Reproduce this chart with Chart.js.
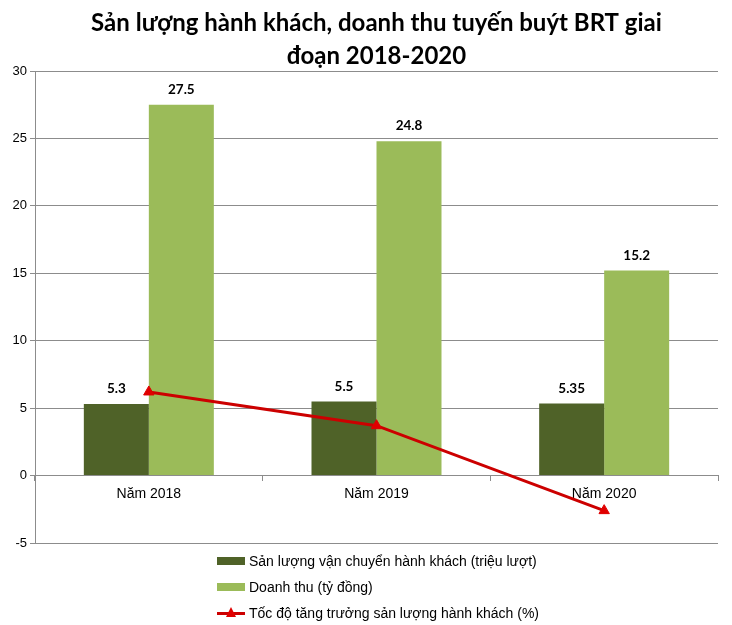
<!DOCTYPE html>
<html>
<head>
<meta charset="utf-8">
<script src="https://cdn.jsdelivr.net/npm/chart.js@4"></script>
<style>
  html, body { margin:0; padding:0; background:#fff; }
  #wrap { position:relative; width:732px; height:625px; }
  #legend { position:absolute; left:217px; top:548px; font-family:"Liberation Sans", Arial, sans-serif; font-size:14px; color:#000; }
  .li { display:flex; align-items:center; height:26px; }
  .sw { width:28px; height:8px; margin-right:4px; position:relative; }
</style>
</head>
<body>
<div id="wrap">
  <canvas id="c" width="732" height="625"></canvas>
  <div id="legend"></div>
</div>
<script>
// ── dữ liệu ──────────────────────────────────────────────
const NAM        = ['Năm 2018', 'Năm 2019', 'Năm 2020'];
const SAN_LUONG  = [5.3, 5.5, 5.35];     // triệu lượt
const DOANH_THU  = [27.5, 24.8, 15.2];   // tỷ đồng
const TANG_TRUONG = [6.2, 3.7, -2.6];    // %
const Y_TICKS    = [-5, 0, 5, 10, 15, 20, 25, 30];

const TITLE = ['Sản lượng hành khách, doanh thu tuyến buýt BRT giai', 'đoạn 2018-2020'];

const C = {
  dark:  '#4F6228',
  light: '#9BBB59',
  red:   '#CC0000',
  tri:   '#E00000',
  grid:  '#8C8C8C',
};

// nhãn giá trị trên cột
const barLabels = {
  id: 'barLabels',
  afterDatasetsDraw(chart) {
    const ctx = chart.ctx;
    ctx.save();
    ctx.font = 'bold 13.5px Lato, "Open Sans", sans-serif';
    ctx.fillStyle = '#000';
    ctx.textAlign = 'center';
    ctx.textBaseline = 'middle';
    chart.data.datasets.forEach((ds, i) => {
      if (ds.type === 'line') return;
      const meta = chart.getDatasetMeta(i);
      meta.data.forEach((el, j) => {
        ctx.fillText(String(ds.data[j]), el.x, el.y - 15);
      });
    });
    ctx.restore();
  }
};

const chart = new Chart(document.getElementById('c'), {
  data: {
    labels: NAM,
    datasets: [
      { type:'bar', label:'Sản lượng vận chuyển hành khách (triệu lượt)', data:SAN_LUONG,
        backgroundColor:C.dark, barPercentage:1, categoryPercentage:0.571, order:2 },
      { type:'bar', label:'Doanh thu (tỷ đồng)', data:DOANH_THU,
        backgroundColor:C.light, barPercentage:1, categoryPercentage:0.571, order:2 },
      { type:'line', label:'Tốc độ tăng trưởng sản lượng hành khách (%)', data:TANG_TRUONG,
        borderColor:C.red, borderWidth:3, tension:0, fill:false,
        pointStyle:'triangle', pointRadius:6, pointBackgroundColor:C.tri, pointBorderColor:C.tri,
        pointBorderWidth:1, order:1 },
    ],
  },
  options: {
    responsive:false, animation:false,
    layout: { padding:{ left:0, right:14, top:0, bottom:82 } },
    plugins: {
      legend: { display:false },
      tooltip: { enabled:false },
      title: {
        display:true, text:TITLE, color:'#000', fullSize:false,
        font:{ family:'Lato, "Open Sans", sans-serif', size:24, weight:'bold', lineHeight:1.375 },
        padding:{ top:7, bottom:-2 },
      },
    },
    scales: {
      x: {
        position:{ y:0 },
        grid:{ offset:true, drawOnChartArea:false, drawTicks:true, tickLength:5, color:C.grid },
        border:{ color:C.grid, width:1 },
        ticks:{ color:'#000', font:{ family:'"Liberation Sans", Arial, sans-serif', size:14 }, padding:5 },
      },
      y: {
        min:-5, max:30,
        afterBuildTicks: s => { s.ticks = Y_TICKS.map(v => ({ value:v })); },
        afterFit: s => { s.width = 35; },
        grid:{ color:C.grid, tickLength:5 },
        border:{ color:C.grid },
        ticks:{ color:'#000', font:{ family:'"Liberation Sans", Arial, sans-serif', size:13 }, padding:3 },
      },
    },
  },
  plugins:[barLabels],
});

// chú giải dạng danh sách dọc
const leg = document.getElementById('legend');
leg.innerHTML = chart.data.datasets.map(ds => {
  const sw = ds.type === 'line'
    ? `<span class="sw" style="height:12px"><span style="position:absolute;left:0;right:0;top:5px;height:3px;background:${C.red}"></span>
         <span style="position:absolute;left:9px;top:0;width:0;height:0;border-left:5px solid transparent;border-right:5px solid transparent;border-bottom:10px solid ${C.tri}"></span></span>`
    : `<span class="sw" style="background:${ds.backgroundColor}"></span>`;
  return `<div class="li">${sw}<span>${ds.label}</span></div>`;
}).join('');
</script>
</body>
</html>
